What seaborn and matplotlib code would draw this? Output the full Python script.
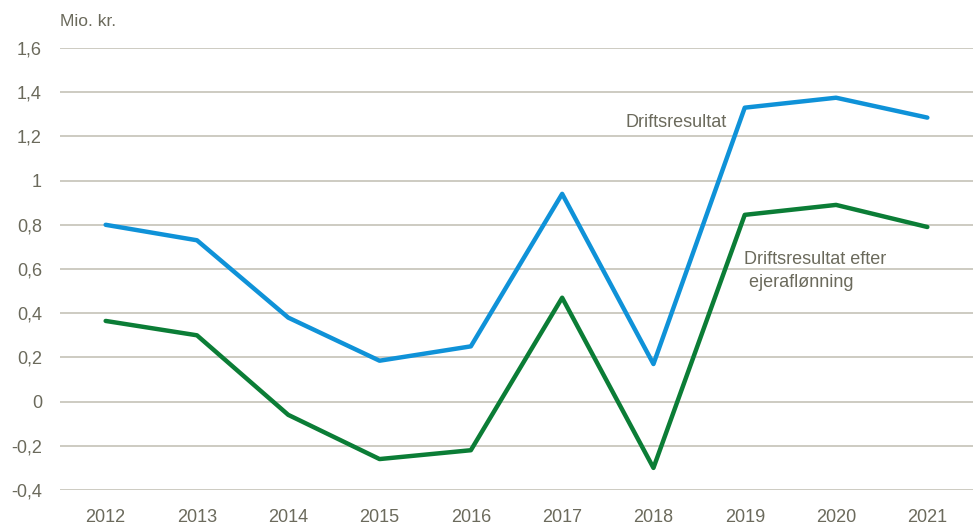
import matplotlib
matplotlib.use("Agg")
import matplotlib.pyplot as plt
import pandas as pd
import seaborn as sns

years = ["2012", "2013", "2014", "2015", "2016", "2017", "2018", "2019", "2020", "2021"]
driftsresultat = [0.80, 0.73, 0.38, 0.185, 0.25, 0.94, 0.17, 1.33, 1.375, 1.285]
efter_ejerafl = [0.365, 0.30, -0.06, -0.26, -0.22, 0.47, -0.30, 0.845, 0.89, 0.79]
y_ticks = [-0.4, -0.2, 0, 0.2, 0.4, 0.6, 0.8, 1.0, 1.2, 1.4, 1.6]
y_labels = ["-0,4", "-0,2", "0", "0,2", "0,4", "0,6", "0,8", "1", "1,2", "1,4", "1,6"]

TEXT = "#6b6a5c"
GRID = "#c9c7bd"
BLUE = "#0f92d8"
GREEN = "#0b7d36"


def main() -> int:
    df = pd.concat([
        pd.DataFrame({"year": years, "value": driftsresultat, "serie": "Driftsresultat"}),
        pd.DataFrame({"year": years, "value": efter_ejerafl, "serie": "Efter ejeraflønning"}),
    ])

    sns.set_theme(style="white")
    plt.rcParams["font.family"] = ["Liberation Sans", "DejaVu Sans"]

    fig = plt.figure(figsize=(9.73, 5.25), dpi=100)
    ax = fig.add_axes([60 / 973, 1 - 490 / 525, 1 - 60 / 973, (490 - 48) / 525])

    sns.lineplot(data=df, x="year", y="value", hue="serie",
                 palette=[BLUE, GREEN], linewidth=3.2, legend=False, ax=ax)

    ax.set_xlim(-0.5, len(years) - 0.5)
    ax.set_ylim(-0.4, 1.6)
    ax.set_yticks(y_ticks)
    ax.set_yticklabels(y_labels)
    ax.set_xlabel("")
    ax.set_ylabel("")
    ax.grid(axis="y", color=GRID, linewidth=1.3)
    ax.set_axisbelow(True)
    for s in ax.spines.values():
        s.set_visible(False)
    ax.tick_params(axis="both", length=0, labelsize=13, labelcolor=TEXT)
    ax.tick_params(axis="y", pad=13)
    ax.tick_params(axis="x", pad=14)

    fig.text(60 / 973, 1 - 22 / 525, "Mio. kr.", fontsize=12.5, color=TEXT, va="center")
    ax.text(5.69, 1.262, "Driftsresultat", fontsize=13, color=TEXT, va="center")
    ax.text(6.99, 0.59, "Driftsresultat efter\n ejeraflønning", fontsize=13,
            color=TEXT, va="center", linespacing=1.45)

    fig.savefig("out.png", dpi=100)
    plt.close(fig)
    return 0


if __name__ == "__main__":
    raise SystemExit(main())
